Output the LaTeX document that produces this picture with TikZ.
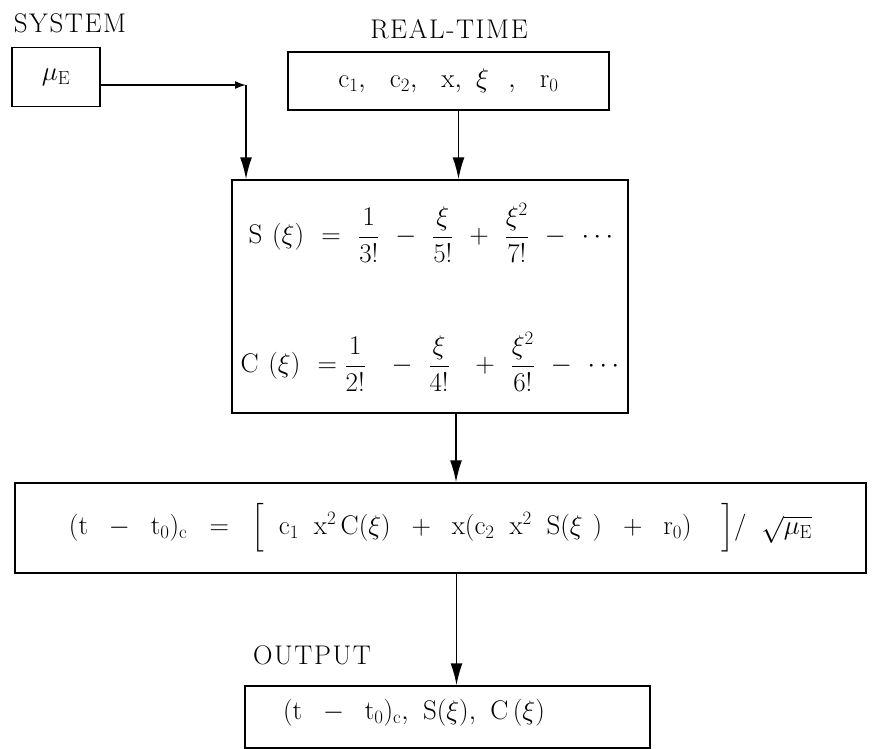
\documentclass[tikz,border=0pt]{standalone}
\usepackage{fix-cm}
\usepackage{amsmath,amssymb}
\usepackage{fontspec}
\setmainfont{Latin Modern Roman}[LetterSpace=6]
\usetikzlibrary{arrows.meta,positioning,calc}
\newcommand{\wsp}{\hspace{0.55em}}

\begin{document}
\begin{tikzpicture}[x=1pt,y=-1pt,
  font=\fontsize{27}{32}\selectfont,
  box/.style={draw,line width=1.5pt,minimum width=#1,inner sep=0pt},
  box/.default=2cm,
  flow/.style={line width=1.6pt,-{Latex[length=22pt,width=12pt]}}
]
  \useasboundingbox (0,0) rectangle (872,748);

  % inputs
  \node at (70,23) (syslbl) {SYSTEM};
  \node[box=88pt, minimum height=59pt] at (56,77) (mu) {$\mu_{\mathrm{E}}$};
  \node at (449,29) (rtlbl) {REAL-TIME};
  \node[box=321pt, minimum height=58pt] at (448.5,81) (rt)
    {$\mathrm{c}_1,\ \ \mathrm{c}_2,\ \ \mathrm{x},\ \xi\ \ ,\ \ \mathrm{r}_0$};

  % series
  \node[box=396pt, minimum height=233pt] at (430,296.5) (mid) {};
  \node[anchor=west] at (245,233) (sfun)
    {$\mathrm{S}\ (\xi)\ =\ \dfrac{1}{3!}\ -\ \dfrac{\xi}{5!}\ +\ \dfrac{\xi^2}{7!}\ -\ \cdots$};
  \node[anchor=west] at (237,362) (cfun)
    {$\mathrm{C}\ (\xi)\ =\dfrac{1}{2!}\ \ -\ \dfrac{\xi}{4!}\ \ +\ \dfrac{\xi^2}{6!}\ -\ \cdots$};

  % time
  \node[box=851pt, minimum height=90pt] at (440.5,528) (wide)
    {$(\mathrm{t}\wsp-\wsp\mathrm{t}_0)_{\mathrm{c}}\wsp=\wsp\Bigl[\wsp\mathrm{c}_1\wsp\mathrm{x}^2\,\mathrm{C}(\xi)\wsp+\wsp\mathrm{x}(\mathrm{c}_2\wsp\mathrm{x}^2\wsp\mathrm{S}(\xi\ )\wsp+\wsp\mathrm{r}_0)\wsp\wsp\Bigr]/\wsp\sqrt{\mu_{\mathrm{E}}}$};

  % output
  \node at (312,655) (outlbl) {OUTPUT};
  \node[box=405pt, minimum height=62pt] at (447.5,717) (out) {};
  \node at (414,713) (outtxt)
    {$(\mathrm{t}\wsp-\wsp\mathrm{t}_0)_{\mathrm{c}},\ \mathrm{S}(\xi),\ \mathrm{C}\,(\xi)$};

  \coordinate (bend) at (246,85);
  \coordinate (outin) at ([xshift=9pt]out.north);
  \draw[flow, -{Latex[length=11pt,width=8pt]}] ([yshift=-8pt]mu.east) -- (bend);
  \draw[flow] (bend) -- (bend |- mid.north);
  \draw[flow] ([xshift=10pt]rt.south) -- ([xshift=10pt]rt.south |- mid.north);
  \draw[flow] ([xshift=26pt]mid.south) -- ([xshift=26pt]mid.south |- wide.north);
  \draw[flow] (outin |- wide.south) -- (outin);
\end{tikzpicture}
\end{document}
